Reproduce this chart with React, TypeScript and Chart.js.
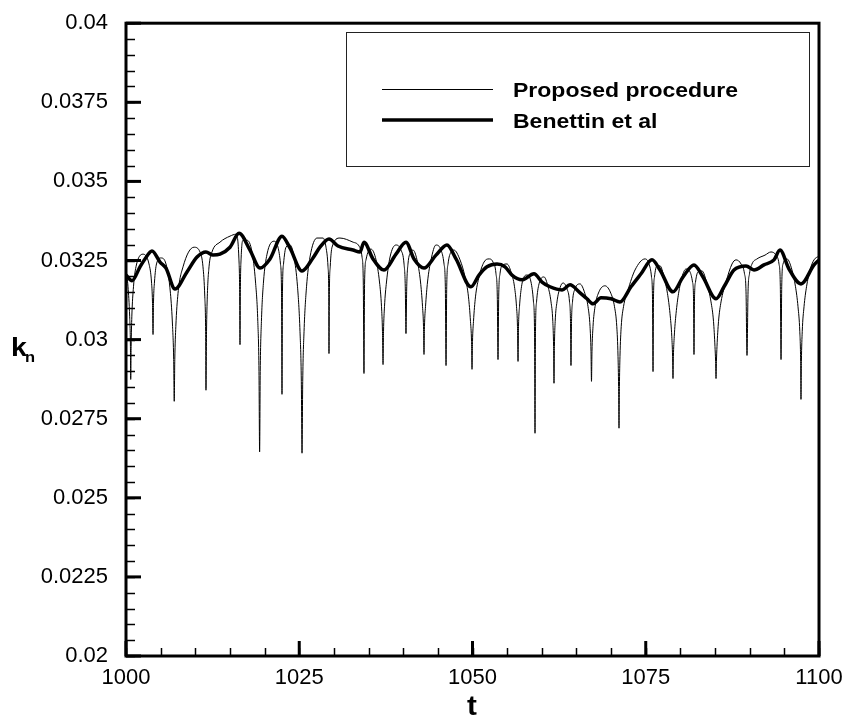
import React, { useEffect, useRef } from "react";
import { Chart, registerables } from "chart.js";

Chart.register(...registerables);

// ---------- data ----------
const tProposed: number[] = [
  1000.00, 1000.29, 1000.53, 1000.64, 1000.68, 1000.74, 1000.84, 1001.08, 1001.44, 1002.45,
  1003.32, 1003.68, 1003.82, 1003.90, 1003.97, 1004.11, 1004.40, 1005.05,
  1005.77, 1006.42, 1006.72, 1006.88, 1006.96, 1007.04, 1007.19, 1007.50, 1008.23, 1009.81,
  1010.68, 1011.11, 1011.37, 1011.49, 1011.54, 1011.62, 1011.73, 1011.98, 1012.41, 1013.56, 1015.01, 1015.87,
  1016.28, 1016.39, 1016.45, 1016.51, 1016.62, 1016.88, 1017.46,
  1018.18, 1018.69, 1019.02, 1019.19, 1019.28, 1019.37, 1019.54, 1019.84, 1020.35, 1021.36,
  1021.93, 1022.29, 1022.44, 1022.51, 1022.58, 1022.73, 1023.09, 1023.67,
  1024.24, 1024.75, 1025.11, 1025.30, 1025.40, 1025.50, 1025.69, 1026.05, 1026.55, 1027.56,
  1028.43, 1028.86, 1029.15, 1029.25, 1029.29, 1029.35, 1029.47, 1029.73, 1030.88, 1032.76,
  1033.62, 1034.06, 1034.24, 1034.34, 1034.43, 1034.63, 1035.35,
  1036.08, 1036.58, 1036.87, 1037.01, 1037.09, 1037.16, 1037.30, 1037.59, 1038.10, 1038.96,
  1039.68, 1040.12, 1040.30, 1040.40, 1040.51, 1040.69, 1041.13, 1041.41,
  1041.99, 1042.50, 1042.79, 1042.93, 1043.00, 1043.07, 1043.22, 1043.51, 1044.01, 1044.73,
  1045.46, 1045.89, 1046.08, 1046.18, 1046.28, 1046.47, 1046.90, 1047.33,
  1048.20, 1048.92, 1049.42, 1049.71, 1049.86, 1049.93, 1050.00, 1050.14, 1050.43, 1050.94, 1051.66, 1052.38,
  1052.96, 1053.39, 1053.58, 1053.68, 1053.78, 1053.97, 1054.40, 1054.98,
  1055.56, 1056.06, 1056.35, 1056.49, 1056.57, 1056.64, 1056.78, 1057.07, 1057.43, 1057.86,
  1058.44, 1058.80, 1058.95, 1059.02, 1059.09, 1059.24, 1059.60, 1060.32,
  1060.90, 1061.33, 1061.59, 1061.70, 1061.76, 1061.82, 1061.93, 1062.19, 1062.63, 1063.06,
  1063.64, 1064.00, 1064.14, 1064.21, 1064.29, 1064.43, 1064.79, 1065.51,
  1066.23, 1066.67, 1066.96, 1067.10, 1067.17, 1067.24, 1067.39, 1067.68, 1068.25, 1069.12,
  1069.99, 1070.49, 1070.82, 1071.00, 1071.08, 1071.14, 1071.20, 1071.28, 1071.46, 1071.79, 1072.44, 1073.45, 1074.89,
  1075.47, 1075.83, 1075.97, 1076.05, 1076.12, 1076.26, 1076.62, 1077.06,
  1077.63, 1078.14, 1078.50, 1078.76, 1078.87, 1078.93, 1078.99, 1079.11, 1079.37, 1079.73, 1080.23, 1080.81,
  1081.39, 1081.75, 1081.89, 1081.96, 1082.04, 1082.18, 1082.54, 1083.12,
  1083.84, 1084.42, 1084.78, 1084.99, 1085.08, 1085.14, 1085.20, 1085.28, 1085.50, 1085.86, 1086.58, 1087.45, 1088.02,
  1088.75, 1089.25, 1089.47, 1089.61, 1089.76, 1089.97, 1090.33, 1091.05, 1092.21, 1093.07,
  1093.80, 1094.23, 1094.42, 1094.52, 1094.62, 1094.81, 1095.38,
  1096.10, 1096.61, 1096.97, 1097.23, 1097.35, 1097.40, 1097.46, 1097.58, 1097.84, 1098.20, 1098.70, 1099.28, 1100.00,
];

const kProposed: number[] = [
  0.03220, 0.03167, 0.03072, 0.02978, 0.02874, 0.02978, 0.03072, 0.03167, 0.03230, 0.03270,
  0.03239, 0.03182, 0.03119, 0.03016, 0.03119, 0.03182, 0.03239, 0.03258,
  0.03239, 0.03145, 0.03041, 0.02937, 0.02805, 0.02937, 0.03041, 0.03145, 0.03230, 0.03292,
  0.03277, 0.03230, 0.03135, 0.03025, 0.02840, 0.03025, 0.03135, 0.03230, 0.03277, 0.03308, 0.03327, 0.03333,
  0.03261, 0.03167, 0.02984, 0.03167, 0.03261, 0.03314, 0.03314,
  0.03277, 0.03182, 0.03057, 0.02899, 0.02645, 0.02899, 0.03057, 0.03182, 0.03270, 0.03311,
  0.03292, 0.03239, 0.03151, 0.02827, 0.03151, 0.03239, 0.03292, 0.03299,
  0.03261, 0.03167, 0.03025, 0.02868, 0.02641, 0.02868, 0.03025, 0.03167, 0.03261, 0.03321,
  0.03321, 0.03292, 0.03230, 0.03151, 0.02956, 0.03151, 0.03230, 0.03292, 0.03321, 0.03308,
  0.03296, 0.03261, 0.03182, 0.02893, 0.03182, 0.03252, 0.03286,
  0.03252, 0.03182, 0.03104, 0.03025, 0.02921, 0.03025, 0.03104, 0.03182, 0.03261, 0.03299,
  0.03283, 0.03239, 0.03167, 0.03019, 0.03167, 0.03239, 0.03277, 0.03283,
  0.03252, 0.03182, 0.03104, 0.03041, 0.02953, 0.03041, 0.03104, 0.03182, 0.03252, 0.03299,
  0.03283, 0.03239, 0.03167, 0.02918, 0.03167, 0.03239, 0.03277, 0.03283,
  0.03252, 0.03198, 0.03135, 0.03057, 0.02994, 0.02906, 0.02994, 0.03057, 0.03135, 0.03198, 0.03245, 0.03255,
  0.03245, 0.03208, 0.03135, 0.02937, 0.03135, 0.03208, 0.03236, 0.03239,
  0.03214, 0.03167, 0.03104, 0.03041, 0.02931, 0.03041, 0.03104, 0.03167, 0.03198, 0.03204,
  0.03182, 0.03119, 0.03025, 0.02704, 0.03025, 0.03119, 0.03176, 0.03198,
  0.03167, 0.03119, 0.03057, 0.02978, 0.02862, 0.02978, 0.03057, 0.03119, 0.03164, 0.03179,
  0.03160, 0.03119, 0.03057, 0.02918, 0.03057, 0.03119, 0.03160, 0.03176,
  0.03145, 0.03104, 0.03041, 0.02962, 0.02868, 0.02962, 0.03041, 0.03104, 0.03151, 0.03170,
  0.03145, 0.03104, 0.03041, 0.02947, 0.02852, 0.02720, 0.02852, 0.02947, 0.03041, 0.03104, 0.03157, 0.03220, 0.03255,
  0.03239, 0.03198, 0.03135, 0.02899, 0.03135, 0.03198, 0.03233, 0.03233,
  0.03198, 0.03145, 0.03082, 0.03009, 0.02947, 0.02877, 0.02947, 0.03009, 0.03082, 0.03145, 0.03198, 0.03223,
  0.03214, 0.03182, 0.03135, 0.02953, 0.03135, 0.03182, 0.03214, 0.03217,
  0.03176, 0.03119, 0.03057, 0.02978, 0.02931, 0.02877, 0.02931, 0.02978, 0.03057, 0.03119, 0.03182, 0.03239, 0.03252,
  0.03239, 0.03208, 0.03151, 0.02950, 0.03151, 0.03208, 0.03239, 0.03255, 0.03267, 0.03277,
  0.03267, 0.03239, 0.03167, 0.02937, 0.03167, 0.03239, 0.03255,
  0.03220, 0.03167, 0.03104, 0.03025, 0.02931, 0.02811, 0.02931, 0.03025, 0.03104, 0.03167, 0.03220, 0.03252, 0.03264,
];

const tBenettin: number[] = [
  1000.00, 1000.87, 1002.02, 1002.74, 1003.75, 1004.91, 1005.77, 1007.07, 1008.80, 1010.25,
  1011.54, 1012.55, 1013.56, 1015.01, 1016.31, 1017.89, 1019.34, 1020.78, 1022.51, 1023.67,
  1025.40, 1026.98, 1027.99, 1029.29, 1030.59, 1032.76, 1033.77, 1034.34, 1035.64, 1037.23,
  1038.96, 1040.40, 1041.56, 1043.00, 1044.73, 1046.32, 1047.62, 1049.78, 1050.94, 1052.09,
  1053.54, 1054.69, 1055.70, 1057.14, 1058.87, 1060.03, 1061.18, 1062.92, 1064.07, 1065.37,
  1066.52, 1067.39, 1068.54, 1069.99, 1071.28, 1072.87, 1074.32, 1075.90, 1077.06, 1078.93,
  1080.38, 1081.96, 1083.26, 1085.14, 1086.29, 1087.73, 1089.47, 1090.62, 1092.06, 1093.51,
  1094.37, 1095.67, 1097.40, 1099.28, 1100.00,
];

const kBenettin: number[] = [
  0.03204, 0.03186, 0.03230, 0.03255, 0.03280, 0.03245, 0.03226, 0.03160, 0.03214, 0.03261,
  0.03277, 0.03267, 0.03270, 0.03292, 0.03336, 0.03283, 0.03226, 0.03255, 0.03327, 0.03289,
  0.03217, 0.03258, 0.03292, 0.03318, 0.03296, 0.03283, 0.03277, 0.03308, 0.03255, 0.03220,
  0.03270, 0.03308, 0.03255, 0.03226, 0.03267, 0.03299, 0.03255, 0.03167, 0.03204, 0.03230,
  0.03239, 0.03230, 0.03204, 0.03189, 0.03208, 0.03182, 0.03167, 0.03157, 0.03173, 0.03151,
  0.03129, 0.03113, 0.03132, 0.03129, 0.03119, 0.03167, 0.03208, 0.03252, 0.03220, 0.03151,
  0.03198, 0.03236, 0.03198, 0.03129, 0.03167, 0.03220, 0.03233, 0.03220, 0.03236, 0.03252,
  0.03283, 0.03223, 0.03176, 0.03236, 0.03252,
];

const seriesNames: string[] = ["Proposed procedure", "Benettin et al"];
const xRange: number[] = [1000, 1100];
const yRange: number[] = [0.02, 0.04];
const xTickStep = 25;
const xMinorStep = 5;
const yTickStep = 0.0025;
const yMinorStep = 0.0005;

const toPoints = (xs: number[], ys: number[]) => {
  const n = Math.min(xs.length, ys.length);
  const out: { x: number; y: number }[] = [];
  for (let i = 0; i < n; i++) out.push({ x: xs[i], y: ys[i] });
  return out;
};

const FONT = "'Liberation Sans', Arial, Helvetica, sans-serif";

const framePlugin = {
  id: "framePlugin",
  afterDraw(chart: any) {
    const ctx: CanvasRenderingContext2D = chart.ctx;
    const { left, right, top, bottom } = chart.chartArea;
    const xs = chart.scales.x;
    const ys = chart.scales.y;
    ctx.save();
    ctx.strokeStyle = "#000";
    ctx.lineCap = "butt";

    // minor ticks y
    ctx.lineWidth = 1.5;
    const nYMinor = Math.round((yRange[1] - yRange[0]) / yMinorStep);
    for (let i = 0; i <= nYMinor; i++) {
      const v = yRange[0] + i * yMinorStep;
      const py = Math.round(ys.getPixelForValue(v)) + 0.5;
      ctx.beginPath();
      ctx.moveTo(left, py);
      ctx.lineTo(left + 9, py);
      ctx.stroke();
    }
    // minor ticks x
    const nXMinor = Math.round((xRange[1] - xRange[0]) / xMinorStep);
    for (let i = 0; i <= nXMinor; i++) {
      const v = xRange[0] + i * xMinorStep;
      const px = Math.round(xs.getPixelForValue(v)) + 0.5;
      ctx.beginPath();
      ctx.moveTo(px, bottom);
      ctx.lineTo(px, bottom - 8);
      ctx.stroke();
    }
    // major ticks
    ctx.lineWidth = 3;
    const nY = Math.round((yRange[1] - yRange[0]) / yTickStep);
    for (let i = 0; i <= nY; i++) {
      const v = yRange[0] + i * yTickStep;
      const py = ys.getPixelForValue(v);
      ctx.beginPath();
      ctx.moveTo(left, py);
      ctx.lineTo(left + 15, py);
      ctx.stroke();
    }
    const nX = Math.round((xRange[1] - xRange[0]) / xTickStep);
    for (let i = 0; i <= nX; i++) {
      const v = xRange[0] + i * xTickStep;
      const px = xs.getPixelForValue(v);
      ctx.beginPath();
      ctx.moveTo(px, bottom);
      ctx.lineTo(px, bottom - 15);
      ctx.stroke();
    }
    // frame
    ctx.lineWidth = 3;
    ctx.strokeRect(left, top, right - left, bottom - top);

    // legend box
    ctx.lineWidth = 1;
    ctx.strokeStyle = "#222";
    ctx.strokeRect(346.5, 32.5, 463, 134);
    ctx.strokeStyle = "#000";
    ctx.lineWidth = 1;
    ctx.beginPath();
    ctx.moveTo(382, 89.5);
    ctx.lineTo(493, 89.5);
    ctx.stroke();
    ctx.lineWidth = 3.5;
    ctx.beginPath();
    ctx.moveTo(382, 120);
    ctx.lineTo(493, 120);
    ctx.stroke();

    const stretched = (text: string, x: number, y: number, font: string, sx: number, align: CanvasTextAlign = "left") => {
      ctx.save();
      ctx.font = font;
      ctx.fillStyle = "#000";
      ctx.textBaseline = "alphabetic";
      ctx.textAlign = align;
      ctx.translate(x, y);
      ctx.scale(sx, 1);
      ctx.fillText(text, 0, 0);
      ctx.restore();
    };
    stretched(seriesNames[0], 513, 97, `bold 20px ${FONT}`, 1.15);
    stretched(seriesNames[1], 513, 128, `bold 20px ${FONT}`, 1.15);

    // axis titles
    stretched("t", 472, 715, `bold 27px ${FONT}`, 1.1, "center");
    stretched("k", 11, 356, `bold 26px ${FONT}`, 1.1);
    stretched("n", 25, 362, `bold 15px ${FONT}`, 1.1);
    ctx.restore();
  },
};

export default function App() {
  const canvasRef = useRef<HTMLCanvasElement | null>(null);

  useEffect(() => {
    const canvas = canvasRef.current;
    if (!canvas) return;
    const chart = new Chart(canvas, {
      type: "line",
      data: {
        datasets: [
          {
            label: seriesNames[0],
            data: toPoints(tProposed, kProposed),
            borderColor: "#000",
            borderWidth: 1,
            pointRadius: 0,
            cubicInterpolationMode: "monotone",
            fill: false,
          },
          {
            label: seriesNames[1],
            data: toPoints(tBenettin, kBenettin),
            borderColor: "#000",
            borderWidth: 3.5,
            pointRadius: 0,
            cubicInterpolationMode: "monotone",
            fill: false,
          },
        ],
      },
      options: {
        responsive: false,
        animation: false,
        parsing: true,
        layout: { padding: { left: 0, right: 29, top: 20, bottom: 0 } },
        plugins: {
          legend: { display: false },
          tooltip: { enabled: false },
          title: { display: false },
        },
        scales: {
          x: {
            type: "linear",
            min: xRange[0],
            max: xRange[1],
            grid: { display: false },
            border: { display: false },
            ticks: {
              stepSize: xTickStep,
              autoSkip: false,
              maxRotation: 0,
              padding: 1,
              color: "#000",
              font: { family: FONT, size: 22 },
              callback: (v: any) => String(Math.round(Number(v))),
            },
            afterFit: (s: any) => {
              s.height = 63;
            },
          },
          y: {
            type: "linear",
            min: yRange[0],
            max: yRange[1],
            grid: { display: false },
            border: { display: false },
            ticks: {
              stepSize: yTickStep,
              autoSkip: false,
              padding: 10,
              color: "#000",
              font: { family: FONT, size: 22 },
              callback: (v: any) => String(Number(Number(v).toFixed(5))),
            },
            afterFit: (s: any) => {
              s.width = 126;
            },
          },
        },
      } as any,
      plugins: [framePlugin],
    });
    return () => chart.destroy();
  }, []);

  return (
    <div style={{ position: "fixed", left: 0, top: 0, width: 848, height: 719, background: "#fff" }}>
      <canvas ref={canvasRef} width={848} height={719} style={{ display: "block", width: 848, height: 719 }} />
    </div>
  );
}
